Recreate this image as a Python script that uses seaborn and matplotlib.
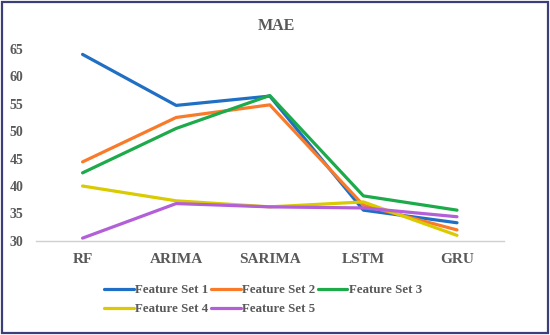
import pandas as pd
import seaborn as sns
import matplotlib
matplotlib.use("Agg")
import matplotlib.pyplot as plt
from matplotlib.patches import Rectangle
from matplotlib.ticker import FixedLocator

# Data
models = ["RF", "ARIMA", "SARIMA", "LSTM", "GRU"]
feature_set_1 = [64.0, 54.7, 56.4, 35.6, 33.3]
feature_set_2 = [44.4, 52.5, 54.8, 36.5, 32.0]
feature_set_3 = [42.4, 50.5, 56.5, 38.2, 35.6]
feature_set_4 = [40.0, 37.3, 36.2, 37.1, 31.0]
feature_set_5 = [30.5, 36.8, 36.2, 36.0, 34.4]
series_names = ["Feature Set 1", "Feature Set 2", "Feature Set 3", "Feature Set 4", "Feature Set 5"]
colors = ["#1F6FC4", "#F97B2A", "#1DAA4A", "#D9CB00", "#B25FD8"]

series = [feature_set_1, feature_set_2, feature_set_3, feature_set_4, feature_set_5]
rows = []
for name, vals in zip(series_names, series):
    for i, (m, v) in enumerate(zip(models, vals)):
        rows.append({"model": i, "label": m, "MAE": v, "series": name})
df = pd.DataFrame(rows)

sns.set_style("white")
plt.rcParams["font.family"] = ["Liberation Serif", "DejaVu Serif"]

fig = plt.figure(figsize=(5.5, 3.35), dpi=100)
ax = fig.add_axes([0.065, 0.281, 0.851, 0.573])

sns.lineplot(data=df, x="model", y="MAE", hue="series", palette=colors,
             linewidth=2.3, ax=ax, legend=True)

ax.set_xlim(-0.5, len(models) - 0.5)
ax.set_ylim(30, 65)
ax.set_yticks(range(30, 66, 5))
ax.set_xticks(range(len(models)))
ax.set_xticklabels(models, fontsize=11, fontweight="bold", color="#595959")
ax.xaxis.set_minor_locator(FixedLocator([i + 0.5 for i in range(-1, len(models))]))
ax.tick_params(axis="x", which="major", length=0, pad=9)
ax.tick_params(axis="x", which="minor", length=4, color="#D0D0D0", width=1)
ax.tick_params(axis="y", length=0, labelsize=10, labelcolor="#595959", pad=9)
for t in ax.get_yticklabels():
    t.set_fontweight("bold")
ax.set_xlabel("")
ax.set_ylabel("")
for s in ["top", "right", "left"]:
    ax.spines[s].set_visible(False)
ax.spines["bottom"].set_color("#D0D0D0")
ax.spines["bottom"].set_linewidth(1)

fig.text(0.503, 0.922, "MAE", ha="center", va="center", fontsize=11.5,
         fontweight="bold", color="#595959")

# legend, row-major order
handles, labels = ax.get_legend_handles_labels()
order = [0, 3, 1, 4, 2]
ax.legend_.remove()
fig.legend([handles[i] for i in order], [labels[i] for i in order],
           loc="center", bbox_to_anchor=(0.478, 0.105), ncol=3, frameon=False,
           prop={"family": "Liberation Serif", "weight": "bold", "size": 9.3},
           labelcolor="#595959", handlelength=2.3, handletextpad=0.1,
           columnspacing=0.2, labelspacing=0.55)

fig.patches.append(Rectangle((0.004, 0.006), 0.992, 0.988, transform=fig.transFigure,
                             fill=False, edgecolor="#3A3F7A", linewidth=1.6))

fig.savefig("out.png", dpi=100)
